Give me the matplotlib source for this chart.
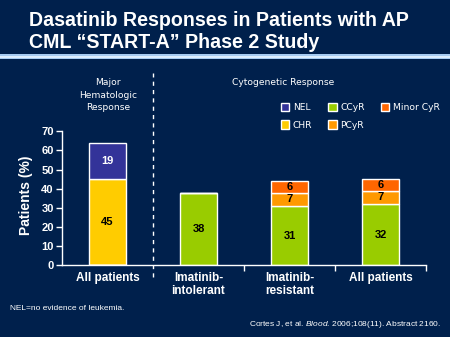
import matplotlib
matplotlib.use("Agg")
import matplotlib.pyplot as plt
from matplotlib.patches import Rectangle
import numpy as np

plt.rcParams['font.family'] = ['Liberation Sans', 'DejaVu Sans']
plt.rcParams['mathtext.fontset'] = 'custom'
plt.rcParams['mathtext.it'] = 'Liberation Sans:italic'
plt.rcParams['mathtext.rm'] = 'Liberation Sans'

categories = ["All patients", "Imatinib-\nintolerant", "Imatinib-\nresistant", "All patients"]
chr_vals = [45, 0, 0, 0]
nel_vals = [19, 0, 0, 0]
ccyr_vals = [0, 38, 31, 32]
pcyr_vals = [0, 0, 7, 7]
minor_vals = [0, 0, 6, 6]
yticks = [0, 10, 20, 30, 40, 50, 60, 70]

BG = "#00204C"
W, H = 450, 337
fig = plt.figure(figsize=(4.5, 3.37), dpi=100, facecolor=BG)

# header band
fig.patches.append(Rectangle((0, 1 - 59 / H), 1, 5 / H, transform=fig.transFigure,
                             facecolor="#A6CBF2", edgecolor="none"))
fig.patches.append(Rectangle((0, 1 - 57.5 / H), 1, 2 / H, transform=fig.transFigure,
                             facecolor="#DCEEFF", edgecolor="none"))

fig.text(29 / W, 1 - 26 / H, "Dasatinib Responses in Patients with AP", color="white",
         fontsize=14.1, fontweight="bold", va="baseline", ha="left")
fig.text(29 / W, 1 - 48 / H, "CML \u201cSTART-A\u201d Phase 2 Study", color="white",
         fontsize=14.1, fontweight="bold", va="baseline", ha="left")

ax = fig.add_axes([62 / W, 1 - 265.3 / H, 364 / W, 134 / H])
ax.set_facecolor(BG)
x = np.arange(len(categories))
bw = 0.4
colors = {"NEL": "#333399", "CHR": "#FFCC00", "CCyR": "#99CC00",
          "PCyR": "#FF9900", "Minor CyR": "#FF6600"}
kw = dict(width=bw, edgecolor="white", linewidth=1.0)

b_chr = ax.bar(x, chr_vals, color=colors["CHR"], label="CHR", **kw)
b_nel = ax.bar(x, nel_vals, bottom=chr_vals, color=colors["NEL"], label="NEL", **kw)
b_cc = ax.bar(x, ccyr_vals, color=colors["CCyR"], label="CCyR", **kw)
bot2 = np.array(ccyr_vals)
b_pc = ax.bar(x, pcyr_vals, bottom=bot2, color=colors["PCyR"], label="PCyR", **kw)
bot3 = bot2 + np.array(pcyr_vals)
b_mi = ax.bar(x, minor_vals, bottom=bot3, color=colors["Minor CyR"], label="Minor CyR", **kw)

def label(vals, bottoms, col):
    for i, (v, b) in enumerate(zip(vals, bottoms)):
        if v > 0:
            ax.text(x[i], b + v / 2, str(v), ha="center", va="center", color=col,
                    fontsize=8, fontweight="bold")

label(chr_vals, [0] * 4, "black")
label(nel_vals, chr_vals, "white")
label(ccyr_vals, [0] * 4, "black")
label(pcyr_vals, bot2, "black")
label(minor_vals, bot3, "black")

ax.set_xlim(-0.5, 3.5)
ax.set_ylim(0, 70)
ax.set_yticks(yticks)
ax.set_yticklabels([str(v) for v in yticks], color="white", fontsize=8, fontweight="bold")
ax.set_xticks(x)
ax.set_xticklabels(categories, color="white", fontsize=8.5, fontweight="bold", linespacing=1.1)
ax.set_xticks([1.5, 2.5, 3.5], minor=True)
ax.tick_params(axis="x", which="major", length=0, pad=5)
ax.tick_params(axis="x", which="minor", length=4, color="white", width=1)
ax.tick_params(axis="y", length=4, color="white", width=1, pad=2)
for s in ["top", "right"]:
    ax.spines[s].set_visible(False)
for s in ["left", "bottom"]:
    ax.spines[s].set_color("white")
    ax.spines[s].set_linewidth(1)
ax.set_ylabel("Patients (%)", color="white", fontsize=10, fontweight="bold", labelpad=4)
ax.yaxis.set_label_coords(-0.08, 0.52)

ax.axvline(0.5, ymin=-0.087, ymax=1.435, color="white", linewidth=1,
           linestyle=(0, (3, 3)), clip_on=False)

small = dict(color="white", fontsize=6.6, family="DejaVu Sans", va="center")
fig.text(108 / W, 1 - 83 / H, "Major", ha="center", **small)
fig.text(108 / W, 1 - 95 / H, "Hematologic", ha="center", **small)
fig.text(108 / W, 1 - 107 / H, "Response", ha="center", **small)
fig.text(283 / W, 1 - 83 / H, "Cytogenetic Response", ha="center", **small)

handles = [b_nel, b_chr, b_cc, b_pc, b_mi]
labels = ["NEL", "CHR", "CCyR", "PCyR", "Minor CyR"]
leg = fig.legend(handles, labels, ncol=3, frameon=False, loc="upper left",
                 bbox_to_anchor=(281 / W, 1 - 102.5 / H), borderpad=0, borderaxespad=0,
                 handlelength=0.9, handleheight=1.0, handletextpad=0.4,
                 columnspacing=1.75, labelspacing=0.95,
                 prop={"family": "DejaVu Sans", "size": 6.6}, labelcolor="white")

fig.text(10 / W, 1 - 308 / H, "NEL=no evidence of leukemia.", color="white", fontsize=6,
         ha="left", va="center")
fig.text(441 / W, 1 - 325 / H,
         "Cortes J, et al. $\\mathit{Blood}$. 2006;108(11). Abstract 2160.",
         color="white", fontsize=6, ha="right", va="center")

fig.savefig("out.png", dpi=100, facecolor=BG)
